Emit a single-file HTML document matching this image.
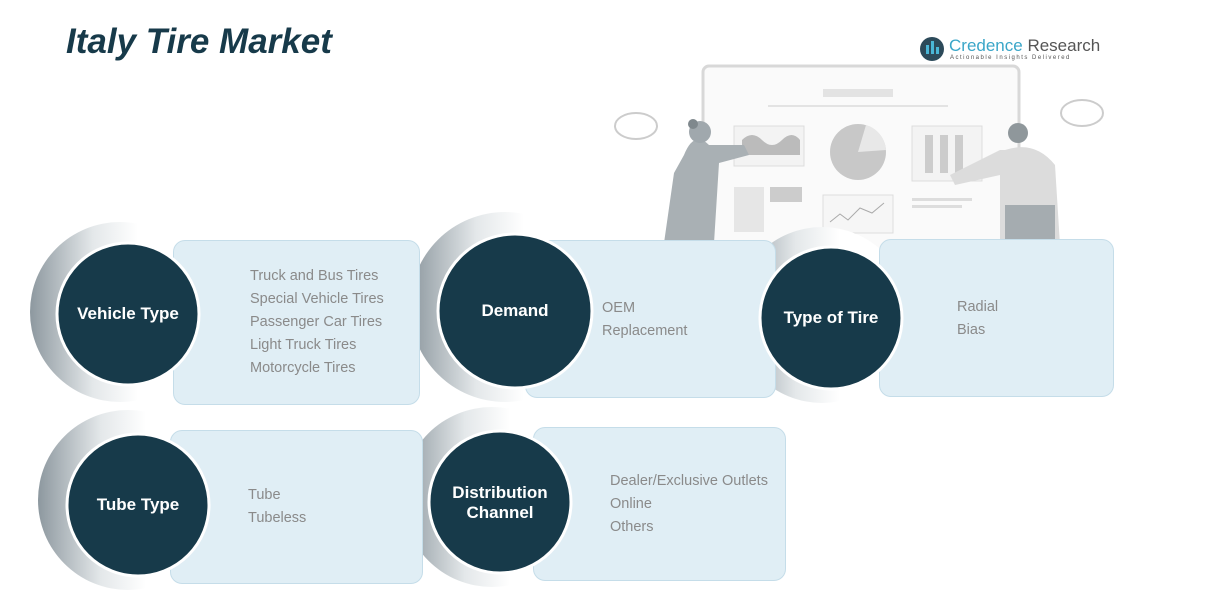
<!DOCTYPE html>
<html><head><meta charset="utf-8"><style>
body{margin:0;width:1211px;height:607px;background:#fff;position:relative;overflow:hidden;font-family:"Liberation Sans",sans-serif}
.t{position:absolute;left:66px;top:22px;font-size:35px;font-weight:bold;font-style:italic;color:#173a4a}
.box{position:absolute;background:#e0eef5;border:1.5px solid #c5dde9;border-radius:12px}
.txt{position:absolute;color:#8a8a8a;font-size:14.5px;line-height:23px}
.lbl{position:absolute;color:#fff;font-weight:bold;font-size:17px;text-align:center;line-height:20px}
</style></head><body>
<div class="t">Italy Tire Market</div>
<svg style="position:absolute;left:0;top:0" width="1211" height="607">
<defs>
<linearGradient id="g" x1="0" y1="0" x2="1" y2="0"><stop offset="0" stop-color="#8d989f"/><stop offset="0.35" stop-color="#e4e8ea"/><stop offset="0.6" stop-color="#fff"/></linearGradient>
</defs>
<circle cx="932" cy="49" r="12" fill="#2c4a5a"/><rect x="926" y="45" width="3" height="9" fill="#4ab6d6"/><rect x="931" y="41" width="3" height="13" fill="#4ab6d6"/><rect x="936" y="47" width="3" height="7" fill="#4ab6d6"/>
<text x="949" y="51" font-size="17" fill="#3aa6c8" font-family="Liberation Sans">Credence <tspan fill="#555">Research</tspan></text>
<text x="950" y="59" font-size="6" fill="#555" letter-spacing="1.5" font-family="Liberation Sans">Actionable Insights Delivered</text>
<rect x="703" y="66" width="316" height="190" rx="6" fill="#fafafa" stroke="#d8d8d8" stroke-width="3"/>
<rect x="823" y="89" width="70" height="8" fill="#e3e3e3"/><rect x="768" y="105" width="180" height="2" fill="#e3e3e3"/>
<rect x="734" y="126" width="70" height="40" fill="#f3f3f3" stroke="#ddd"/>
<path d="M742 140 q10 -10 20 0 t20 0 t18 0 v15 h-58z" fill="#bbb"/>
<circle cx="858" cy="152" r="28" fill="#c8c8c8"/><path d="M858 152 L866 125 A28 28 0 0 1 886 150 Z" fill="#e8e8e8"/>
<rect x="912" y="126" width="70" height="55" fill="#f3f3f3" stroke="#ddd"/>
<rect x="925" y="135" width="8" height="38" fill="#ccc"/><rect x="940" y="135" width="8" height="38" fill="#ccc"/><rect x="955" y="135" width="8" height="38" fill="#ccc"/>
<rect x="734" y="187" width="30" height="45" fill="#e6e6e6"/><rect x="770" y="187" width="32" height="15" fill="#ccc"/>
<rect x="823" y="195" width="70" height="38" fill="#f6f6f6" stroke="#ddd"/><path d="M830 222 l10 -8 l8 6 l12 -12 l12 5 l12 -10" fill="none" stroke="#aaa"/>
<rect x="912" y="198" width="60" height="3" fill="#ddd"/><rect x="912" y="205" width="50" height="3" fill="#ddd"/>
<path d="M684 155 q10 -25 25 -10 l35 0 l5 10 l-30 8 l-5 80 l-50 0 l10 -70z" fill="#a9b0b4"/>
<circle cx="700" cy="132" r="11" fill="#a0a8ad"/><circle cx="693" cy="124" r="5" fill="#7f888d"/>
<path d="M1000 150 l-50 25 l5 10 l45 -10 l0 70 l60 0 l-5 -80 q-20 -25 -50 -15z" fill="#dcdcdc"/>
<circle cx="1018" cy="133" r="10" fill="#8f979b"/><rect x="1005" y="205" width="50" height="35" fill="#a5acb0"/>
<ellipse cx="636" cy="126" rx="21" ry="13" fill="#fff" stroke="#ccc" stroke-width="2"/>
<ellipse cx="1082" cy="113" rx="21" ry="13" fill="#fff" stroke="#ccc" stroke-width="2"/>
<circle cx="120" cy="312" r="90" fill="url(#g)"/>
<circle cx="505" cy="307" r="95" fill="url(#g)"/>
<circle cx="822" cy="315" r="88" fill="url(#g)"/>
<circle cx="128" cy="500" r="90" fill="url(#g)"/>
<circle cx="492" cy="497" r="90" fill="url(#g)"/>
</svg>
<div class="box" style="left:173px;top:240px;width:245px;height:163px"></div>
<div class="box" style="left:525px;top:240px;width:249px;height:156px"></div>
<div class="box" style="left:879px;top:239px;width:233px;height:156px"></div>
<div class="box" style="left:170px;top:430px;width:251px;height:152px"></div>
<div class="box" style="left:533px;top:427px;width:251px;height:152px"></div>
<svg style="position:absolute;left:0;top:0" width="1211" height="607">
<g fill="#173a4a" stroke="#fff" stroke-width="3">
<circle cx="128" cy="314" r="71"/><circle cx="515" cy="311" r="77"/><circle cx="831" cy="318" r="71"/><circle cx="138" cy="505" r="71"/><circle cx="500" cy="502" r="71"/>
</g></svg>
<div class="lbl" style="left:58px;top:304px;width:140px">Vehicle Type</div>
<div class="lbl" style="left:445px;top:301px;width:140px">Demand</div>
<div class="lbl" style="left:761px;top:308px;width:140px">Type of Tire</div>
<div class="lbl" style="left:68px;top:495px;width:140px">Tube Type</div>
<div class="lbl" style="left:430px;top:483px;width:140px">Distribution<br>Channel</div>
<div class="txt" style="left:250px;top:265px">Truck and Bus Tires<br>Special Vehicle Tires<br>Passenger Car Tires<br>Light Truck Tires<br>Motorcycle Tires</div>
<div class="txt" style="left:602px;top:297px">OEM<br>Replacement</div>
<div class="txt" style="left:957px;top:296px">Radial<br>Bias</div>
<div class="txt" style="left:248px;top:484px">Tube<br>Tubeless</div>
<div class="txt" style="left:610px;top:470px">Dealer/Exclusive Outlets<br>Online<br>Others</div>
</body></html>
